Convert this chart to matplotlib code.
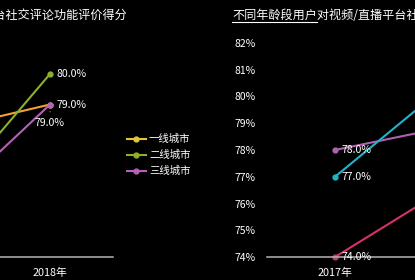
import matplotlib.pyplot as plt
from matplotlib.lines import Line2D

plt.rcParams['font.family'] = ['Noto Sans CJK SC', 'DejaVu Sans']

# data
years = ['2017年', '2018年']
city_labels = ['一线城市', '二线城市', '三线城市']
city_tier1 = [78.0, 79.0]
city_tier2 = [75.0, 80.0]
city_tier3 = [75.0, 79.0]
age_group_a = [78.0, 79.0]
age_group_b = [77.0, 81.0]
age_group_c = [74.0, 77.0]
y_ticks = [74, 75, 76, 77, 78, 79, 80, 81, 82]

left_title = '视频/直播平台社交评论功能评价得分'
right_title = '不同年龄段用户对视频/直播平台社交评论功能评价得分'

W, H = 415, 280
fig = plt.figure(figsize=(W / 100, H / 100), dpi=100, facecolor='black')


def px_axes(left, top, right, bottom):
    # axes placed in pixel coordinates (origin top-left)
    return fig.add_axes([left / W, 1 - bottom / H, (right - left) / W, (bottom - top) / H])


def style(ax):
    ax.set_facecolor('black')
    for s in ['left', 'right', 'top']:
        ax.spines[s].set_visible(False)
    ax.spines['bottom'].set_color('#b4b4b4')
    ax.spines['bottom'].set_linewidth(1.1)
    ax.tick_params(length=0, colors='white', labelsize=7.5)
    ax.set_xticks([0, 1])
    ax.set_xticklabels(years, fontsize=7.8)
    ax.tick_params(axis='x', pad=7.5)
    ax.set_ylim(74, 82)


def label_points(ax, values, skip=None):
    for i, v in enumerate(values):
        if skip == i:
            continue
        ax.annotate(f'{v:.1f}%', (i, v), xytext=(4.5, 0), textcoords='offset points',
                    ha='left', va='center', color='white', fontsize=7.6)


# left chart: city tiers
ax1 = px_axes(0, 13, 113, 257)
style(ax1)
ax1.set_xlim(0.615, 1.485)
ax1.set_yticks([])

orange = '#f2a232'
green = '#8bb12a'
magenta = '#b860b8'
ax1.plot([0, 1], city_tier1, color=orange, lw=1.5, marker='o', ms=3.5,
         mfc='#e0c43a', mec='#e0c43a')
ax1.plot([0, 1], city_tier2, color=green, lw=1.5, marker='o', ms=3.5)
ax1.plot([0, 1], city_tier3, color=magenta, lw=1.5, marker='o', ms=3.5)
label_points(ax1, city_tier1)
label_points(ax1, city_tier2)
label_points(ax1, city_tier3, skip=1)
ax1.annotate(f'{city_tier3[1]:.1f}%', (1, city_tier3[1]), xytext=(0, -13),
             textcoords='offset points', ha='center', va='center', color='white', fontsize=7.6,
             arrowprops=dict(arrowstyle='-', color='#d0d0d0', lw=0.6, shrinkA=2, shrinkB=5))

handles = [Line2D([], [], color=c, marker='o', ms=3.5, lw=1.5)
           for c in ['#e0c43a', green, magenta]]
fig.legend(handles, city_labels, loc='upper left', bbox_to_anchor=(127 / W, 1 - 134 / H),
           frameon=False, fontsize=7.5, labelcolor='white', handlelength=1.8,
           handletextpad=0.3, labelspacing=0.55, borderpad=0, borderaxespad=0)

# right chart: age groups
ax2 = px_axes(267, 43, 415, 257)
style(ax2)
ax2.set_xlim(-0.523, 0.615)
ax2.set_yticks(y_ticks)
ax2.set_yticklabels([f'{v}%' for v in y_ticks])
ax2.tick_params(axis='y', pad=8)

ax2.plot([0, 1], age_group_a, color='#b060b0', lw=1.5, marker='o', ms=3.5)
ax2.plot([0, 1], age_group_b, color='#22b4c6', lw=1.5, marker='o', ms=3.5)
ax2.plot([0, 1], age_group_c, color='#d8306e', lw=1.5, marker='o', ms=3.5,
         mfc='#b04050', mec='#b04050', clip_on=False)
label_points(ax2, age_group_a)
label_points(ax2, age_group_b)
label_points(ax2, age_group_c)

# titles (the source screenshot cuts both of them at the edges)
fig.text(127 / W, 1 - 15.5 / H, left_title, ha='right', va='center', color='white',
         fontsize=8.7, fontweight='medium')
fig.text(232 / W, 1 - 15.5 / H, right_title, ha='left', va='center', color='white',
         fontsize=8.7, fontweight='medium')
fig.add_artist(Line2D([232 / W, 317 / W], [1 - 22 / H] * 2, color='white', lw=0.8))

fig.savefig('out.png', dpi=100, facecolor='black')
